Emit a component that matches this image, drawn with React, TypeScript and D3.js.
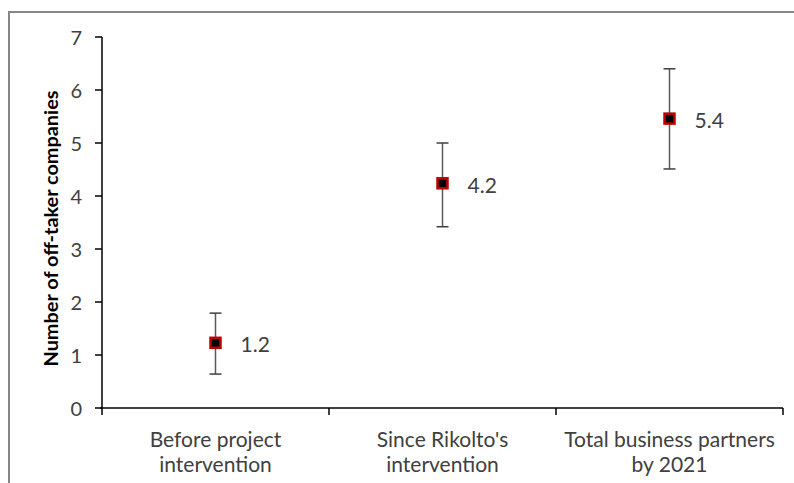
import React from "react";
import * as d3 from "d3";

const categories: string[][] = [
  ["Before project", "intervention"],
  ["Since Rikolto's", "intervention"],
  ["Total business partners", "by 2021"],
];
const means: number[] = [1.23, 4.24, 5.46];
const lows: number[] = [0.64, 3.42, 4.51];
const highs: number[] = [1.79, 5.0, 6.4];
const valueLabels: string[] = ["1.2", "4.2", "5.4"];
const yTicks: number[] = [0, 1, 2, 3, 4, 5, 6, 7];
const yTitle = "Number of off-taker companies";

const W = 794;
const H = 483;
const left = 102;
const right = 783;
const top = 37;
const bottom = 408;

export default function App() {
  const x = d3
    .scaleBand<number>()
    .domain(d3.range(categories.length))
    .range([left, right])
    .paddingInner(0)
    .paddingOuter(0);
  const y = d3.scaleLinear().domain([0, 7]).range([bottom, top]);
  const font = "Lato, 'Open Sans', sans-serif";
  const textColor = "#404040";
  const boundaries = d3.range(categories.length + 1).map((i) => left + i * x.bandwidth());

  return (
    <svg
      width={W}
      height={H}
      style={{ position: "absolute", left: 0, top: 0, background: "#fff" }}
      fontFamily={font}
    >
      <rect x={9} y={12} width={W + 20} height={H + 20} fill="#fff" stroke="#868686" strokeWidth={2} />
      {/* y axis */}
      <line x1={left} x2={left} y1={top} y2={bottom} stroke="#000" strokeWidth={1.5} />
      {yTicks.map((t) => (
        <g key={t}>
          <line x1={left - 7} x2={left} y1={y(t)} y2={y(t)} stroke="#000" strokeWidth={1.5} />
          <text
            x={left - 20}
            y={y(t)}
            textAnchor="end"
            dominantBaseline="central"
            fontSize={20}
            fill={textColor}
          >
            {t}
          </text>
        </g>
      ))}
      <text
        transform={`translate(51,${(top + bottom) / 2 + 6}) rotate(-90)`}
        textAnchor="middle"
        dominantBaseline="central"
        fontSize={18}
        fontWeight="bold"
        fill="#000"
        textLength={276}
        lengthAdjust="spacingAndGlyphs"
      >
        {yTitle}
      </text>
      {/* x axis */}
      <line x1={left - 2} x2={right} y1={bottom} y2={bottom} stroke="#000" strokeWidth={1.5} />
      {boundaries.map((b, i) => (
        <line key={i} x1={b} x2={b} y1={bottom} y2={bottom + 7} stroke="#000" strokeWidth={1.5} />
      ))}
      {categories.map((lines, i) => (
        <text key={i} x={x(i)! + x.bandwidth() / 2} textAnchor="middle" fontSize={21} fill={textColor}>
          {lines.map((ln, j) => (
            <tspan key={j} x={x(i)! + x.bandwidth() / 2} y={447 + j * 25}>
              {ln}
            </tspan>
          ))}
        </text>
      ))}
      {/* error bars and markers */}
      {means.map((m, i) => {
        const cx = x(i)! + x.bandwidth() / 2;
        return (
          <g key={i}>
            <line x1={cx} x2={cx} y1={y(highs[i])} y2={y(lows[i])} stroke="#595959" strokeWidth={1.5} />
            <line x1={cx - 6} x2={cx + 6} y1={y(highs[i])} y2={y(highs[i])} stroke="#404040" strokeWidth={1.5} />
            <line x1={cx - 6} x2={cx + 6} y1={y(lows[i])} y2={y(lows[i])} stroke="#404040" strokeWidth={1.5} />
            <rect x={cx - 5} y={y(m) - 5} width={10} height={10} fill="#000" stroke="#c00000" strokeWidth={2.5} />
            <text x={cx + 25} y={y(m) + 1} dominantBaseline="central" fontSize={21} fill={textColor}>
              {valueLabels[i]}
            </text>
          </g>
        );
      })}
    </svg>
  );
}
